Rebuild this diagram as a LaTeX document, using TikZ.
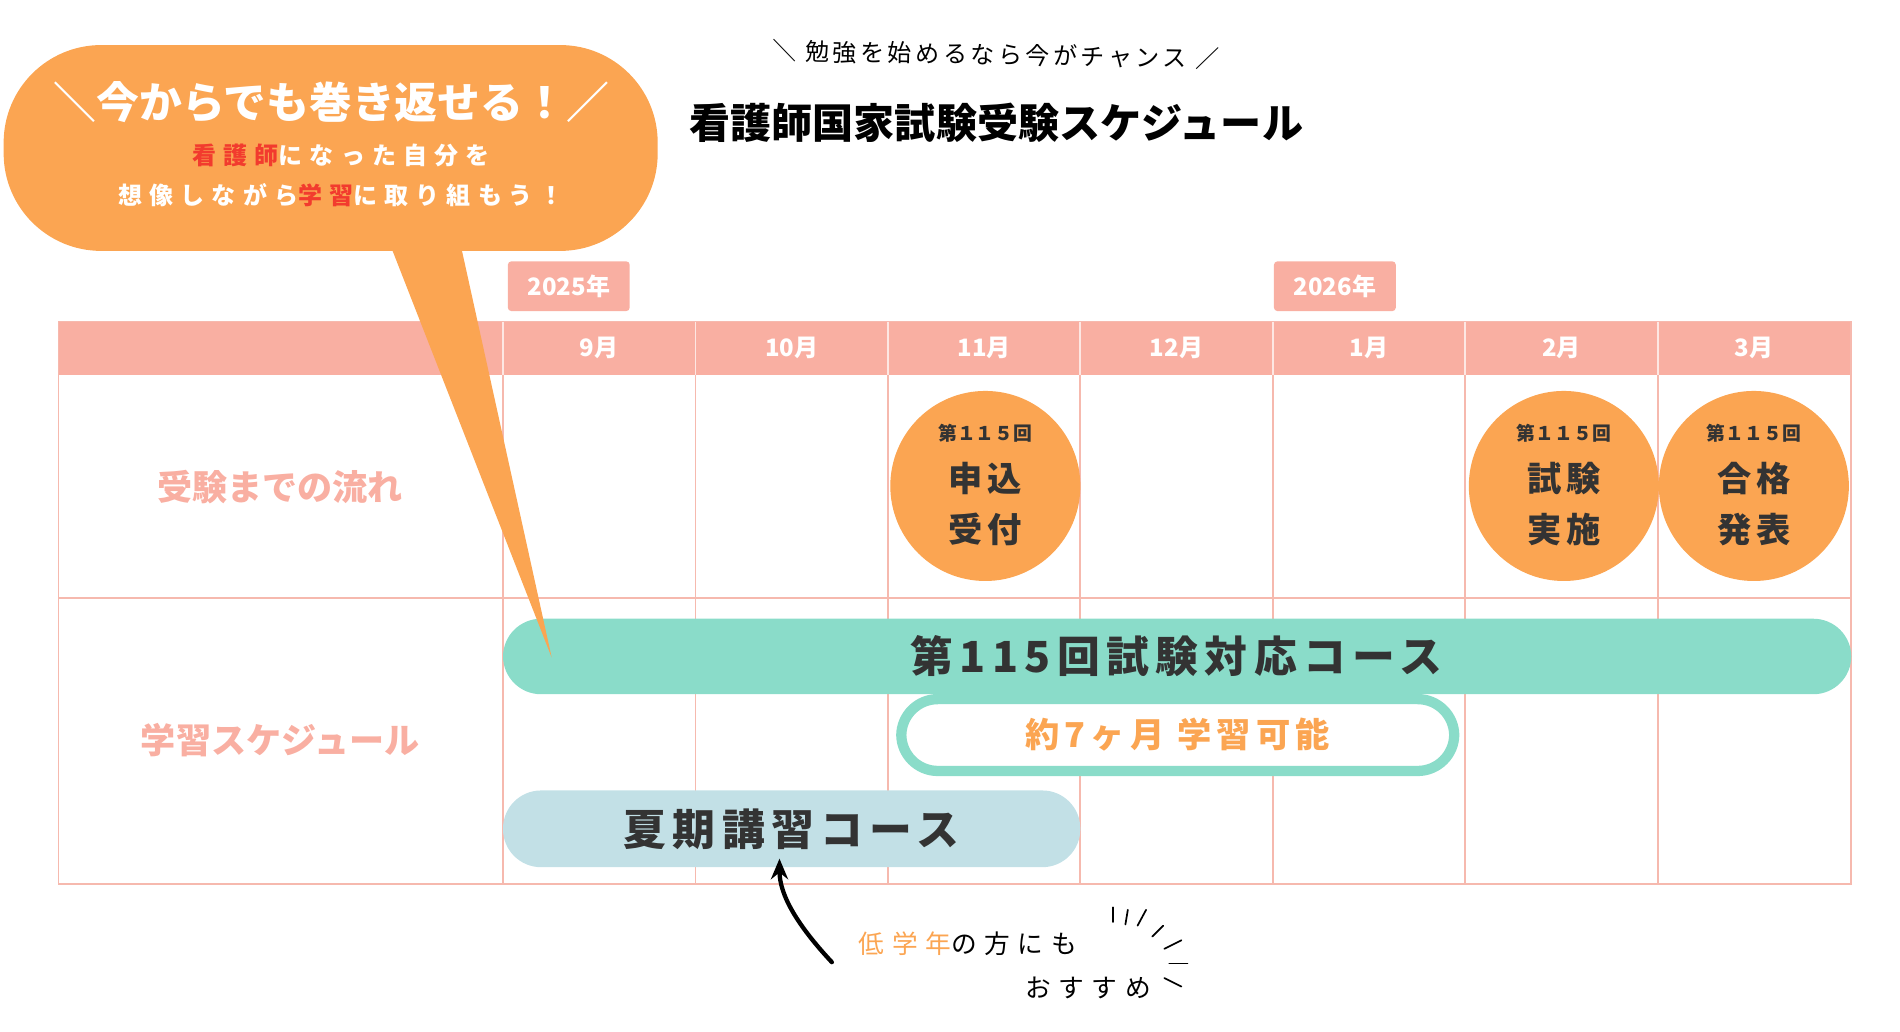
\documentclass[tikz,border=0pt]{standalone}
\usepackage{fontspec}
\usetikzlibrary{positioning, calc, arrows.meta}
\setmainfont{Noto Sans CJK JP}
\newfontfamily\jpwide{Noto Sans CJK JP}[LetterSpace=15]
\newfontfamily\jpwider{Noto Sans CJK JP}[LetterSpace=30]
\definecolor{salmon}{HTML}{F9AFA2}
\definecolor{gridc}{HTML}{F6B9AE}
\definecolor{orng}{HTML}{FBA552}
\definecolor{teal}{HTML}{8ADCC9}
\definecolor{lblue}{HTML}{C2E0E6}
\definecolor{redt}{HTML}{F23B2E}
\definecolor{dark}{HTML}{333333}
\tikzset{
    month/.style={text=white, font=\bfseries\fontsize{14}{16}\selectfont},
    yeartag/.style={fill=salmon, rounded corners=2pt, text=white, minimum width=2.5cm, minimum height=1.02cm, font=\bfseries\fontsize{14}{16}\selectfont},
    rowlabel/.style={text=salmon, font=\bfseries\fontsize{20.5}{22}\selectfont},
    event/.style={circle, fill=orng, minimum size=3.9cm, inner sep=0pt},
    eventno/.style={text=dark, font=\bfseries\fontsize{11}{12}\selectfont},
    eventname/.style={text=dark, align=center, font=\jpwide\bfseries\fontsize{20}{30}\selectfont},
    bartext/.style={text=dark, font=\jpwide\bfseries\fontsize{25}{27}\selectfont},
    bubbletext/.style={text=white, font=\jpwider\bfseries\fontsize{14}{16}\selectfont},
    notetext/.style={font=\jpwider\fontsize{15}{17}\selectfont},
}
\begin{document}
\begin{tikzpicture}[x=0.025cm, y=-0.025cm]
    \useasboundingbox (0,0) rectangle (1560,847);
    % header row
    \fill[salmon] (48,264) rectangle (1520,308);
    \draw[gridc, line width=1pt] (48,264) rectangle (1520,726);
    \draw[gridc, line width=1pt] (48,491) -- (1520,491);
    \foreach \x in {413,571,729,887,1045,1203,1361}{
        \draw[gridc, line width=1pt] (\x,308) -- (\x,726);
        \draw[white!70!salmon, line width=1pt] (\x,264) -- (\x,308);
    }
    \foreach \m [count=\i] in {9月,10月,11月,12月,1月,2月,3月}{
        \node[month] (m\i) at ({413+158*(\i-1)+79},286) {\m};
    }
    % year tags
    \node[yeartag] (y25) at (467,235) {2025年};
    \node[yeartag] (y26) at (1096,235) {2026年};
    % row labels
    \node[rowlabel] (flow) at (230,400) {受験までの流れ};
    \node[rowlabel] (study) at (230,608) {学習スケジュール};
    % events
    \foreach \n/\x/\a/\b in {apply/809/申込/受付, exam/1284/試験/実施, pass/1440/合格/発表}{
        \node[event] (\n) at (\x,399) {};
        \node[eventno] (\n no) at (\x,356) {第１１５回};
        \node[eventname] (\n txt) at (\x,414) {\a\\\b};
    }
    % courses
    \fill[teal, rounded corners=0.78cm] (413,508) rectangle (1520,570);
    \node[bartext] (main) at (966,539) {第115回試験対応コース};
    \draw[teal, line width=6pt, fill=white, rounded corners=0.75cm] (740,574) rectangle (1194,633);
    \node[text=orng, font=\jpwide\bfseries\fontsize{20}{22}\selectfont] (months) at (967,603) {約7ヶ月 学習可能};
    \fill[lblue, rounded corners=0.78cm] (413,649) rectangle (887,712);
    \node[bartext] (summer) at (650,681) {夏期講習コース};
    % recommendation note
    \node[notetext, anchor=west] (low) at (700,775) {\textcolor{orng}{低学年}の方にも};
    \node[notetext, anchor=east] (rec) at (950,811) {おすすめ};
    \coordinate (tail) at (683,790);
    \coordinate (tip) at (640,705);
    \draw[line width=2.5pt, line cap=round, -{Stealth[length=12pt,width=10pt]}] (tail) .. controls (655,760) and (640,735) .. (tip);
    \foreach \a/\b/\c/\d in {914/745/914/757, 926/747/924/759, 941/747/934/760, 955/760/946/769, 970/772/956/779, 975/791/960/791, 970/810/956/803}{
        \draw[line width=1pt, line cap=round] (\a,\b) -- (\c,\d);
    }
    % titles
    \node[font=\jpwide\fontsize{14}{15}\selectfont, rotate=-1] (sub) at (818,45) {＼\ 勉強を始めるなら今がチャンス\ ／};
    \node[font=\bfseries\fontsize{24}{26}\selectfont] (title) at (818,101) {看護師国家試験受験スケジュール};
    % speech bubble
    \fill[orng] (320,200) -- (453,540) -- (378,200) -- cycle;
    \fill[orng, rounded corners=2cm] (3,37) rectangle (540,206);
    \node[text=white, font=\bfseries\fontsize{25}{27}\selectfont] (slogan) at (272,84) {＼今からでも巻き返せる！／};
    \node[bubbletext] (l1) at (280,128) {\textcolor{redt}{看護師}になった自分を};
    \node[bubbletext] (l2) at (280,160) {想像しながら\textcolor{redt}{学習}に取り組もう！};
\end{tikzpicture}
\end{document}
